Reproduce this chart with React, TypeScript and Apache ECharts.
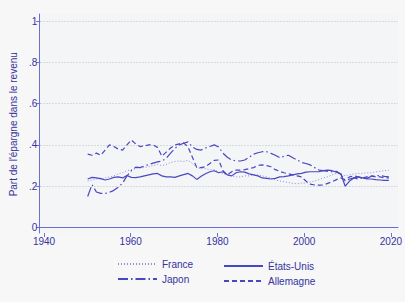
import React, { useEffect, useRef } from "react";
import * as echarts from "echarts";

const years = [
  1950, 1951, 1952, 1953, 1954, 1955, 1956, 1957, 1958, 1959,
  1960, 1961, 1962, 1963, 1964, 1965, 1966, 1967, 1968, 1969,
  1970, 1971, 1972, 1973, 1974, 1975, 1976, 1977, 1978, 1979,
  1980, 1981, 1982, 1983, 1984, 1985, 1986, 1987, 1988, 1989,
  1990, 1991, 1992, 1993, 1994, 1995, 1996, 1997, 1998, 1999,
  2000, 2001, 2002, 2003, 2004, 2005, 2006, 2007, 2008, 2009,
  2010, 2011, 2012, 2013, 2014, 2015, 2016, 2017, 2018, 2019,
];

const france = [
  0.225, 0.23, 0.235, 0.235, 0.24, 0.245, 0.25, 0.26, 0.265, 0.275,
  0.28, 0.285, 0.29, 0.29, 0.295, 0.3, 0.305, 0.3, 0.305, 0.315,
  0.32, 0.322, 0.32, 0.325, 0.31, 0.29, 0.285, 0.285, 0.28, 0.28,
  0.27, 0.26, 0.255, 0.25, 0.245, 0.245, 0.25, 0.25, 0.255, 0.255,
  0.25, 0.245, 0.24, 0.23, 0.225, 0.222, 0.218, 0.214, 0.212, 0.215,
  0.215, 0.22, 0.225, 0.232, 0.24, 0.246, 0.255, 0.262, 0.26, 0.25,
  0.255, 0.26, 0.262, 0.262, 0.265, 0.265, 0.27, 0.272, 0.275, 0.278,
];

const japon = [
  0.15, 0.208, 0.172, 0.165, 0.165, 0.17, 0.18, 0.195, 0.215, 0.25,
  0.275, 0.292, 0.29, 0.298, 0.305, 0.312, 0.318, 0.322, 0.335, 0.36,
  0.383, 0.4, 0.408, 0.415, 0.39, 0.378, 0.375, 0.385, 0.392, 0.4,
  0.39, 0.36, 0.34, 0.327, 0.322, 0.322, 0.327, 0.34, 0.355, 0.362,
  0.367, 0.367, 0.359, 0.35, 0.338, 0.345, 0.35, 0.338, 0.327, 0.315,
  0.31, 0.303, 0.29, 0.278, 0.275, 0.272, 0.27, 0.272, 0.258, 0.225,
  0.235, 0.24, 0.235, 0.24, 0.238, 0.248, 0.25, 0.252, 0.248, 0.245,
];

const etatsUnis = [
  0.235, 0.243, 0.24, 0.237, 0.23, 0.235, 0.243, 0.245, 0.24, 0.252,
  0.243, 0.242, 0.245, 0.25, 0.255, 0.26, 0.262, 0.25, 0.245, 0.245,
  0.243, 0.25, 0.256, 0.262, 0.25, 0.233, 0.248, 0.26, 0.27, 0.275,
  0.265, 0.27, 0.255, 0.25, 0.265, 0.27, 0.268, 0.26, 0.255, 0.25,
  0.24, 0.238, 0.235, 0.238, 0.245, 0.246, 0.25, 0.255, 0.26, 0.262,
  0.268, 0.27, 0.27, 0.27, 0.275, 0.278, 0.275, 0.268, 0.26, 0.2,
  0.225, 0.24, 0.245, 0.24, 0.235, 0.235, 0.232, 0.23, 0.228, 0.228,
];

const allemagne = [
  0.355, 0.35, 0.36, 0.35, 0.375, 0.4, 0.392, 0.38, 0.375, 0.4,
  0.424, 0.405, 0.392, 0.395, 0.4, 0.4, 0.388, 0.345, 0.365, 0.385,
  0.4, 0.405, 0.41, 0.39, 0.34, 0.29, 0.29, 0.295, 0.31, 0.325,
  0.327, 0.275, 0.255, 0.27, 0.278, 0.278, 0.28, 0.285, 0.29, 0.3,
  0.303, 0.3, 0.294, 0.28, 0.272, 0.265, 0.26, 0.255, 0.25, 0.245,
  0.225, 0.21, 0.206, 0.205, 0.206, 0.214, 0.222, 0.232, 0.24, 0.232,
  0.245, 0.25, 0.245, 0.24, 0.245, 0.25, 0.245, 0.245, 0.24, 0.24,
];

const xTicks = [1940, 1960, 1980, 2000, 2020];
const yTicks = [0, 0.2, 0.4, 0.6, 0.8, 1];

const LINE = "#4a47c2";
const TEXT = "#35339c";
const AXIS = "#6f6cd4";
const FONT = "'Liberation Sans', Arial, sans-serif";

function fmtY(v: number): string {
  if (Math.abs(v) < 1e-9) return "0";
  if (Math.abs(v - 1) < 1e-9) return "1";
  return "." + String(Math.round(v * 10));
}

export default function App() {
  const ref = useRef<HTMLDivElement>(null);
  useEffect(() => {
    if (!ref.current) return;
    const chart = echarts.init(ref.current, undefined, { renderer: "svg" });
    const pts = (vals: number[]) => years.map((y, i) => [y, vals[i]]);
    const base = {
      type: "line",
      xAxisIndex: 0,
      yAxisIndex: 0,
      symbol: "none",
      showSymbol: false,
      silent: true,
    };
    const legendCommon = {
      orient: "vertical",
      itemWidth: 39,
      itemHeight: 10,
      itemGap: 5,
      padding: 0,
      itemStyle: { opacity: 0 },
      textStyle: { color: TEXT, fontSize: 10, fontFamily: FONT },
    };
    chart.setOption({
      animation: false,
      backgroundColor: "#f7f7f8",
      textStyle: { fontFamily: FONT, color: TEXT },
      grid: [
        { left: 39, right: 7, top: 14, bottom: 69, show: true, backgroundColor: "#f4f5f6", borderWidth: 0 },
        { left: 39, right: 7, top: 21, bottom: 74.5 },
        { left: 44, right: 12, top: 14, bottom: 69 },
      ],
      xAxis: [
        {
          gridIndex: 0, type: "value", min: 1938.85, max: 2021.1,
          axisLine: { show: true, lineStyle: { color: AXIS, width: 1 } },
          axisTick: { show: false }, axisLabel: { show: false }, splitLine: { show: false },
        },
        { gridIndex: 1, type: "value", min: 0, max: 1, show: false },
        {
          gridIndex: 2, type: "value", min: xTicks[0], max: xTicks[xTicks.length - 1], interval: 20,
          axisLine: { show: false },
          axisTick: { show: true, length: 4, lineStyle: { color: AXIS } },
          axisLabel: { show: true, color: TEXT, fontSize: 10, margin: 3, fontFamily: FONT, formatter: (v: number) => String(v) },
          splitLine: { show: false },
        },
      ],
      yAxis: [
        {
          gridIndex: 0, type: "value", min: -0.0266, max: 1.0339,
          axisLine: { show: true, lineStyle: { color: AXIS, width: 1 } },
          axisTick: { show: false }, axisLabel: { show: false }, splitLine: { show: false },
        },
        {
          gridIndex: 1, type: "value", min: yTicks[0], max: yTicks[yTicks.length - 1], interval: 0.2,
          axisLine: { show: false },
          axisTick: { show: true, length: 4, lineStyle: { color: AXIS } },
          axisLabel: { show: true, color: TEXT, fontSize: 10, margin: 3, fontFamily: FONT, formatter: fmtY },
          splitLine: { show: true, lineStyle: { color: "#cfd0d4", width: 1, type: [1.5, 1.5] } },
          name: "Part de l'épargne dans le revenu",
          nameLocation: "middle",
          nameGap: 20,
          nameTextStyle: { color: TEXT, fontSize: 10, fontFamily: FONT },
        },
        { gridIndex: 2, type: "value", min: 0, max: 1, show: false },
      ],
      legend: [
        { ...legendCommon, data: ["France", "Japon"], left: 117, top: 259 },
        { ...legendCommon, data: ["États-Unis", "Allemagne"], left: 223, top: 261 },
      ],
      series: [
        { ...base, name: "France", data: pts(france), lineStyle: { color: LINE, width: 1, type: [1, 2], opacity: 0.6 }, itemStyle: { color: LINE } },
        { ...base, name: "Japon", data: pts(japon), lineStyle: { color: LINE, width: 1.2, type: [10, 3, 1.5, 3] }, itemStyle: { color: LINE } },
        { ...base, name: "États-Unis", data: pts(etatsUnis), lineStyle: { color: LINE, width: 1.2, type: "solid" }, itemStyle: { color: LINE } },
        { ...base, name: "Allemagne", data: pts(allemagne), lineStyle: { color: LINE, width: 1.2, type: [5, 3] }, itemStyle: { color: LINE } },
      ],
    });
    return () => chart.dispose();
  }, []);
  return (
    <div
      ref={ref}
      style={{ position: "fixed", left: 0, top: 0, width: 405, height: 302, background: "#f7f7f8" }}
    />
  );
}
